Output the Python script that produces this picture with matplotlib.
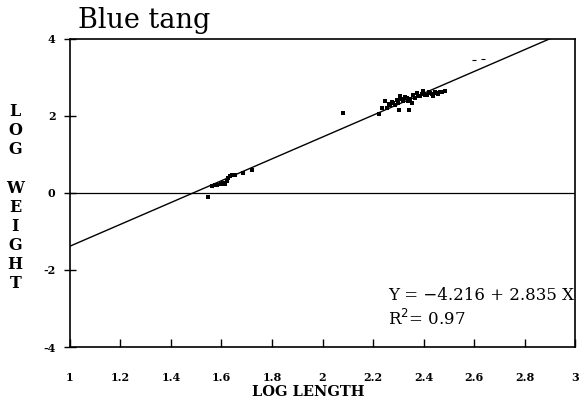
import numpy as np
import matplotlib as mpl
mpl.use("Agg")
import matplotlib.pyplot as plt

# length-weight data (log10)
log_length = [1.548, 1.561, 1.575, 1.581, 1.597, 1.607, 1.614, 1.620, 1.627, 1.634,
              1.640, 1.653, 1.686, 1.720,
              2.080, 2.225, 2.236, 2.248, 2.254, 2.262, 2.267, 2.275, 2.280, 2.288,
              2.294, 2.300, 2.303, 2.307, 2.312, 2.320, 2.326, 2.333, 2.338, 2.344,
              2.348, 2.353, 2.360, 2.366, 2.373, 2.380, 2.386, 2.392, 2.399, 2.405,
              2.413, 2.420, 2.426, 2.432, 2.439, 2.445, 2.452, 2.458, 2.465, 2.475,
              2.485]
log_weight = [-0.11, 0.17, 0.20, 0.22, 0.24, 0.26, 0.23, 0.30, 0.39, 0.43,
              0.47, 0.48, 0.52, 0.60,
              2.08, 2.04, 2.20, 2.38, 2.21, 2.30, 2.29, 2.36, 2.34, 2.28,
              2.42, 2.35, 2.16, 2.51, 2.44, 2.38, 2.50, 2.47, 2.40, 2.16,
              2.45, 2.34, 2.55, 2.48, 2.60, 2.53, 2.51, 2.58, 2.64, 2.55,
              2.55, 2.62, 2.60, 2.56, 2.51, 2.63, 2.61, 2.58, 2.62, 2.63,
              2.64]
# two faint dashes near the upper right of the scan
stray_x = [2.600, 2.637]
stray_y = [3.46, 3.49]

intercept = -4.216
slope = 2.835
r2 = 0.97

x_ticks = [1, 1.2, 1.4, 1.6, 1.8, 2, 2.2, 2.4, 2.6, 2.8, 3]
x_tick_labels = ["1", "1.2", "1.4", "1.6", "1.8", "2", "2.2", "2.4", "2.6", "2.8", "3"]
y_ticks = [-4, -2, 0, 2, 4]

plt.rcParams.update({
    "font.family": "DejaVu Serif",
})

fig = plt.figure(figsize=(5.88, 4.0), dpi=100)
ax = fig.add_axes([0.119, 0.1325, 0.859, 0.77])

# regression line and zero line
xl = np.array([1.0, 3.0])
ax.plot(xl, intercept + slope * xl, color="black", lw=1.0)
ax.axhline(0, color="black", lw=0.9)

ax.scatter(log_length, log_weight, s=5, marker="s", color="black", lw=0)
ax.scatter(stray_x, stray_y, s=12, marker="_", color="black", lw=0.8)

ax.set_xlim(1, 3)
ax.set_ylim(-4, 4)
ax.set_xticks(x_ticks)
ax.set_xticklabels(x_tick_labels, fontweight="bold", fontsize=8)
ax.set_yticks(y_ticks)
ax.set_yticklabels([str(t) for t in y_ticks], fontweight="bold", fontsize=8)
ax.tick_params(axis="x", direction="in", length=6, width=1, pad=18)
ax.tick_params(axis="y", direction="inout", length=9, width=1, pad=6)
for sp in ax.spines.values():
    sp.set_linewidth(1.2)

ax.set_xlabel("LOG LENGTH", fontweight="bold", fontsize=10.5)
ax.xaxis.set_label_coords(0.472, -0.122)
fig.text(0.026, 0.506, "\n".join("LOG WEIGHT"), ha="center", va="center",
         fontweight="bold", fontsize=11.5, linespacing=1.16)

fig.text(0.133, 0.93, "Blue tang", fontsize=19.5, ha="left", va="baseline")

eq = f"Y = {intercept:.3f} + {slope:.3f} X".replace("-", "\u2212")
ax.text(0.629, 0.152, eq, transform=ax.transAxes,
        fontsize=12, ha="left", va="baseline")
ax.text(0.629, 0.073, f"R$^2$= {r2:.2f}", transform=ax.transAxes,
        fontsize=12, ha="left", va="baseline")

fig.savefig("out.png", dpi=100)
